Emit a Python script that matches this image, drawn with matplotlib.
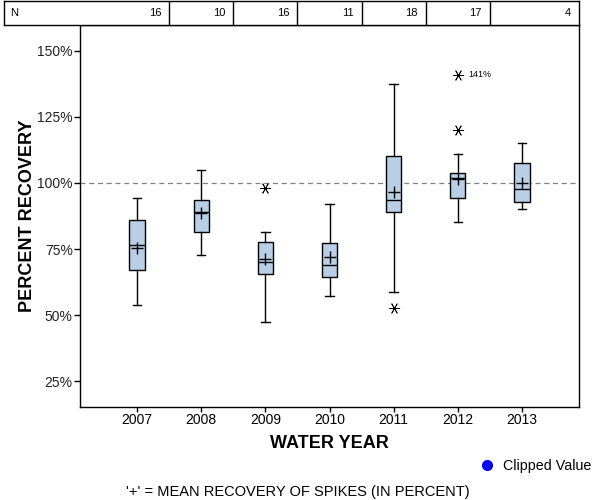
#!/usr/bin/env python

"""
Boxplots of percent recovery of spikes by water year, with sample counts
shown in a strip across the top of the plot.
"""

import numpy as np
import matplotlib
matplotlib.use('Agg')
import matplotlib.pyplot as plt
from matplotlib.lines import Line2D
plt.rcParams.update({'font.family': ['Liberation Sans', 'DejaVu Sans'], 'font.size': 9})

# values
years = [2007, 2008, 2009, 2010, 2011, 2012, 2013]
counts = [16, 10, 16, 11, 18, 17, 4]
q1 = [66.9, 81.4, 65.4, 64.3, 88.9, 94.3, 92.7]
med = [76.4, 88.9, 70.0, 68.8, 93.4, 101.9, 97.7]
q3 = [85.9, 93.4, 77.5, 77.2, 110.1, 103.7, 107.5]
whislo = [53.7, 72.6, 47.2, 57.2, 58.7, 85.1, 90.2]
whishi = [94.2, 104.8, 81.4, 92.0, 137.4, 111.1, 115.0]
means = [75.5, 88.6, 71.1, 71.8, 96.5, 101.6, 100.0]
outliers = [[], [], [98.0], [], [52.8], [120.1, 141.0], []]
outlier_labels = {2012: 141}
yticks = [25, 50, 75, 100, 125, 150]
ref_line = 100


def main():
    fig_w, fig_h = 6, 5
    fig = plt.figure(figsize=(fig_w, fig_h), dpi=100)

    # axes placement in pixels (left, right, top, bottom)
    ax_l, ax_r, ax_t, ax_b = 80, 579, 25, 407
    ax = fig.add_axes([ax_l / 600, 1 - ax_b / 500, (ax_r - ax_l) / 600, (ax_b - ax_t) / 500])

    stats = []
    for i, yr in enumerate(years):
        stats.append(dict(med=med[i], q1=q1[i], q3=q3[i], whislo=whislo[i], whishi=whishi[i],
                          mean=means[i], fliers=outliers[i], label=str(yr)))

    ax.axhline(ref_line, color='#808080', ls=(0, (4, 3)), lw=0.9, zorder=1)

    ax.bxp(stats, positions=years, widths=0.24, patch_artist=True, showmeans=True,
           showfliers=True, manage_ticks=False,
           boxprops=dict(facecolor='#b8cfe6', edgecolor='black', lw=1),
           medianprops=dict(color='black', lw=1),
           whiskerprops=dict(color='black', lw=1),
           capprops=dict(color='black', lw=1),
           capwidths=0.13,
           meanprops=dict(marker='+', markeredgecolor='black', markersize=8, markeredgewidth=1),
           flierprops=dict(marker=(6, 2, 90), markeredgecolor='black', markersize=8,
                           markeredgewidth=0.6, linestyle='none'))

    for yr, val in outlier_labels.items():
        ax.annotate(f'{val}%', xy=(yr, val), xytext=(7.5, 0), textcoords='offset points',
                    ha='left', va='center', fontsize=6.5)

    x0, x1 = years[0] - 0.89, years[-1] + 0.89
    ax.set_xlim(x0, x1)
    ax.set_ylim(15.2, 159.8)
    ax.set_xticks(years)
    ax.set_xticklabels([str(y) for y in years], fontsize=10)
    ax.set_yticks(yticks)
    ax.set_yticklabels([f'{y}%' for y in yticks], fontsize=10, color='#222222')
    ax.tick_params(axis='x', direction='out', length=3.5, width=1, pad=1)
    ax.tick_params(axis='y', direction='out', length=4.3, width=1, pad=1)
    for s in ax.spines.values():
        s.set_linewidth(1)
    ax.set_xlabel('WATER YEAR', fontsize=13, fontweight='bold')
    ax.set_ylabel('PERCENT RECOVERY', fontsize=13, fontweight='bold')
    ax.xaxis.set_label_coords(0.5, -(443 - ax_b) / (ax_b - ax_t))
    ax.yaxis.set_label_coords(-(ax_l - 28) / (ax_r - ax_l), 0.5)
    ax.xaxis.label.set_va('center')
    ax.yaxis.label.set_va('center')

    # count strip across the top
    px_per_unit = (ax_r - ax_l) / (x1 - x0)
    t_l = 4
    tax = fig.add_axes([t_l / 600, 1 - ax_t / 500, (ax_r - t_l) / 600, (ax_t - 1) / 500])
    tax.set_xlim(x0 - (ax_l - t_l) / px_per_unit, x1)
    tax.set_ylim(0, 1)
    tax.set_xticks([])
    tax.set_yticks([])
    for s in tax.spines.values():
        s.set_linewidth(1)
    for yr in years[:-1]:
        tax.axvline(yr + 0.5, color='black', lw=1)
    rights = [yr + 0.5 for yr in years[:-1]] + [x1]
    for r, n in zip(rights, counts):
        tax.annotate(str(n), xy=(r, 0.5), xytext=(-8, 0), textcoords='offset pixels',
                     ha='right', va='center', fontsize=8)
    tax.text(0.01, 0.5, 'N', transform=tax.transAxes, ha='left', va='center', fontsize=8)

    # legend and footnote
    handle = Line2D([], [], marker='o', color='blue', ls='none', markersize=7)
    fig.legend([handle], ['Clipped Value'], loc='center right', bbox_to_anchor=(1.0, 1 - 466 / 500),
               frameon=False, fontsize=10.3, handletextpad=0.6, handlelength=1.0, borderaxespad=0.2)
    fig.text(298 / 600, 1 - 492 / 500, "'+' = MEAN RECOVERY OF SPIKES (IN PERCENT)",
             ha='center', va='center', fontsize=10.5)

    fig.savefig('out.png', dpi=100)
    plt.close()


if __name__ == '__main__':
    main()
